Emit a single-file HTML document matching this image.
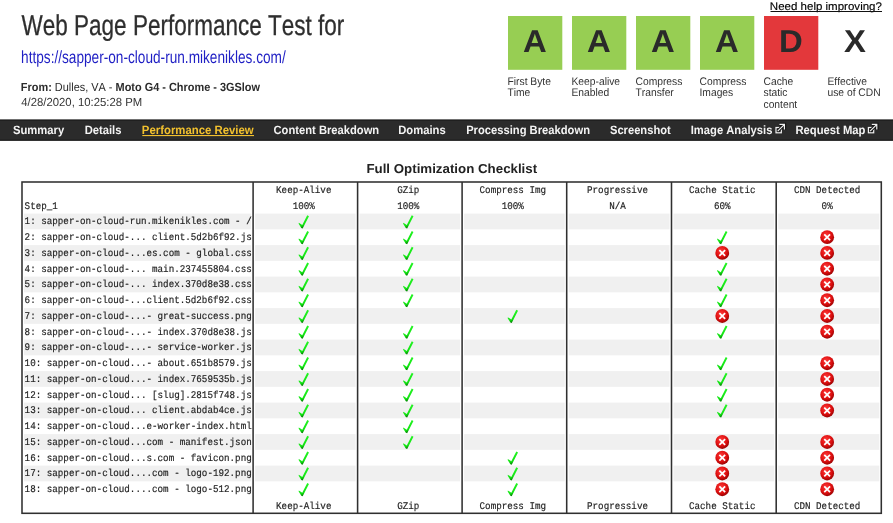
<!DOCTYPE html>
<html><head><meta charset="utf-8">
<style>
*{margin:0;padding:0}
html,body{width:893px;height:523px;overflow:hidden;background:#fff}
svg{display:block;will-change:transform;font-kerning:none;text-rendering:geometricPrecision}
text{font-kerning:none}
</style></head><body>
<svg width="893" height="523" viewBox="0 0 893 523">
<defs><linearGradient id="cg" x1="0" y1="0" x2="0.3" y2="1"><stop offset="0" stop-color="#2cfc2c"/><stop offset="0.78" stop-color="#12e412"/><stop offset="1" stop-color="#007800"/></linearGradient><radialGradient id="rg" cx="0.42" cy="0.35" r="0.7"><stop offset="0" stop-color="#ff3a3a"/><stop offset="0.6" stop-color="#dd0f0f"/><stop offset="1" stop-color="#8e0000"/></radialGradient></defs>
<text x="21.60" y="34.80" font-family="Liberation Sans" font-size="28.8" textLength="322.57" lengthAdjust="spacingAndGlyphs" fill="#2e2e2e" stroke="#2e2e2e" stroke-width="0.3"><tspan font-weight="normal">Web Page Performance Test for</tspan></text>
<text x="21.05" y="62.80" font-family="Liberation Sans" font-size="17.6" textLength="264.65" lengthAdjust="spacingAndGlyphs" fill="#1e1ec4" ><tspan font-weight="normal">https://sapper-on-cloud-run.mikenikles.com/</tspan></text>
<text x="20.87" y="91.30" font-family="Liberation Sans" font-size="11.8" textLength="239.11" lengthAdjust="spacingAndGlyphs" fill="#2b2b2b" ><tspan font-weight="bold">From:</tspan><tspan font-weight="normal"> Dulles, VA - </tspan><tspan font-weight="bold">Moto G4 - Chrome - 3GSlow</tspan></text>
<text x="21.34" y="106.20" font-family="Liberation Sans" font-size="11.7" textLength="120.79" lengthAdjust="spacingAndGlyphs" fill="#333" ><tspan font-weight="normal">4/28/2020, 10:25:28 PM</tspan></text>
<text x="769.85" y="9.60" font-family="Liberation Sans" font-size="11.0" textLength="112.07" lengthAdjust="spacingAndGlyphs" fill="#000" stroke="#000" stroke-width="0.15"><tspan font-weight="normal">Need help improving?</tspan></text>
<rect x="770.5" y="11" width="111.5" height="1" fill="#111"/>
<rect x="508" y="16" width="54.3" height="53.8" fill="#97ce53"/>
<text x="535.00" y="52.45" font-family="Liberation Sans" font-weight="bold" font-size="31.6" text-anchor="middle" fill="#2a2a2a" transform="translate(535.30,0) scale(1.04,1) translate(-535.30,0)">A</text>
<rect x="572" y="16" width="54.3" height="53.8" fill="#97ce53"/>
<text x="599.00" y="52.45" font-family="Liberation Sans" font-weight="bold" font-size="31.6" text-anchor="middle" fill="#2a2a2a" transform="translate(599.30,0) scale(1.04,1) translate(-599.30,0)">A</text>
<rect x="636" y="16" width="54.3" height="53.8" fill="#97ce53"/>
<text x="663.00" y="52.45" font-family="Liberation Sans" font-weight="bold" font-size="31.6" text-anchor="middle" fill="#2a2a2a" transform="translate(663.30,0) scale(1.04,1) translate(-663.30,0)">A</text>
<rect x="700" y="16" width="54.3" height="53.8" fill="#97ce53"/>
<text x="727.00" y="52.45" font-family="Liberation Sans" font-weight="bold" font-size="31.6" text-anchor="middle" fill="#2a2a2a" transform="translate(727.30,0) scale(1.04,1) translate(-727.30,0)">A</text>
<rect x="764" y="16" width="54.3" height="53.8" fill="#e3383b"/>
<text x="791.00" y="52.45" font-family="Liberation Sans" font-weight="bold" font-size="31.6" text-anchor="middle" fill="#2a2a2a" transform="translate(791.30,0) scale(1.04,1) translate(-791.30,0)">D</text>
<text x="855.00" y="52.45" font-family="Liberation Sans" font-weight="bold" font-size="31.6" text-anchor="middle" fill="#2a2a2a" transform="translate(855.30,0) scale(1.04,1) translate(-855.30,0)">X</text>
<text x="507.50" y="84.50" font-family="Liberation Sans" font-size="11" textLength="43.43" lengthAdjust="spacingAndGlyphs" fill="#333">First Byte</text>
<text x="507.50" y="96.40" font-family="Liberation Sans" font-size="11" textLength="22.85" lengthAdjust="spacingAndGlyphs" fill="#333">Time</text>
<text x="571.50" y="84.50" font-family="Liberation Sans" font-size="11" textLength="48.60" lengthAdjust="spacingAndGlyphs" fill="#333">Keep-alive</text>
<text x="571.50" y="96.40" font-family="Liberation Sans" font-size="11" textLength="37.75" lengthAdjust="spacingAndGlyphs" fill="#333">Enabled</text>
<text x="635.50" y="84.50" font-family="Liberation Sans" font-size="11" textLength="46.87" lengthAdjust="spacingAndGlyphs" fill="#333">Compress</text>
<text x="635.50" y="96.40" font-family="Liberation Sans" font-size="11" textLength="38.29" lengthAdjust="spacingAndGlyphs" fill="#333">Transfer</text>
<text x="699.50" y="84.50" font-family="Liberation Sans" font-size="11" textLength="46.87" lengthAdjust="spacingAndGlyphs" fill="#333">Compress</text>
<text x="699.50" y="96.40" font-family="Liberation Sans" font-size="11" textLength="33.73" lengthAdjust="spacingAndGlyphs" fill="#333">Images</text>
<text x="763.50" y="84.50" font-family="Liberation Sans" font-size="11" textLength="29.73" lengthAdjust="spacingAndGlyphs" fill="#333">Cache</text>
<text x="763.50" y="96.40" font-family="Liberation Sans" font-size="11" textLength="24.01" lengthAdjust="spacingAndGlyphs" fill="#333">static</text>
<text x="763.50" y="108.30" font-family="Liberation Sans" font-size="11" textLength="33.74" lengthAdjust="spacingAndGlyphs" fill="#333">content</text>
<text x="827.50" y="84.50" font-family="Liberation Sans" font-size="11" textLength="39.44" lengthAdjust="spacingAndGlyphs" fill="#333">Effective</text>
<text x="827.50" y="96.40" font-family="Liberation Sans" font-size="11" textLength="53.16" lengthAdjust="spacingAndGlyphs" fill="#333">use of CDN</text>
<rect x="0" y="119.6" width="893" height="21.1" fill="#2b2b2b"/>
<rect x="0" y="119.6" width="893" height="1.1" fill="#1c1c1c"/>
<rect x="0" y="139.6" width="893" height="1.1" fill="#1c1c1c"/>
<text x="12.98" y="134.20" font-family="Liberation Sans" font-size="12.0" textLength="51.28" lengthAdjust="spacingAndGlyphs" fill="#f4f4f4" ><tspan font-weight="bold">Summary</tspan></text>
<text x="84.65" y="134.20" font-family="Liberation Sans" font-size="12.0" textLength="36.81" lengthAdjust="spacingAndGlyphs" fill="#f4f4f4" ><tspan font-weight="bold">Details</tspan></text>
<text x="141.84" y="134.20" font-family="Liberation Sans" font-size="12.0" textLength="111.84" lengthAdjust="spacingAndGlyphs" fill="#f2c12e" ><tspan font-weight="bold">Performance Review</tspan></text>
<rect x="142.29999999999998" y="135.0" width="111.69999999999999" height="1.1" fill="#f2c12e"/>
<text x="273.54" y="134.20" font-family="Liberation Sans" font-size="12.0" textLength="105.65" lengthAdjust="spacingAndGlyphs" fill="#f4f4f4" ><tspan font-weight="bold">Content Breakdown</tspan></text>
<text x="398.25" y="134.20" font-family="Liberation Sans" font-size="12.0" textLength="47.51" lengthAdjust="spacingAndGlyphs" fill="#f4f4f4" ><tspan font-weight="bold">Domains</tspan></text>
<text x="466.15" y="134.20" font-family="Liberation Sans" font-size="12.0" textLength="123.84" lengthAdjust="spacingAndGlyphs" fill="#f4f4f4" ><tspan font-weight="bold">Processing Breakdown</tspan></text>
<text x="609.98" y="134.20" font-family="Liberation Sans" font-size="12.0" textLength="60.76" lengthAdjust="spacingAndGlyphs" fill="#f4f4f4" ><tspan font-weight="bold">Screenshot</tspan></text>
<text x="690.75" y="134.20" font-family="Liberation Sans" font-size="12.0" textLength="81.61" lengthAdjust="spacingAndGlyphs" fill="#f4f4f4" ><tspan font-weight="bold">Image Analysis</tspan></text>
<text x="795.45" y="134.20" font-family="Liberation Sans" font-size="12.0" textLength="70.01" lengthAdjust="spacingAndGlyphs" fill="#f4f4f4" ><tspan font-weight="bold">Request Map</tspan></text>
<g transform="translate(775.4,126.9)" fill="none"><rect x="0.6" y="0.6" width="5.3" height="5.3" stroke="#f0f0f0" stroke-width="1.2"/><path d="M2.3 4.2 L8.6 -2.1 M3.8 -2.6 H9.2 V2.8" stroke="#151515" stroke-width="3.2"/><path d="M2.3 4.2 L8.6 -2.1 M4.0 -2.6 H9.0 V2.6" stroke="#f0f0f0" stroke-width="1.2"/></g>
<g transform="translate(867.8,126.9)" fill="none"><rect x="0.6" y="0.6" width="5.3" height="5.3" stroke="#f0f0f0" stroke-width="1.2"/><path d="M2.3 4.2 L8.6 -2.1 M3.8 -2.6 H9.2 V2.8" stroke="#151515" stroke-width="3.2"/><path d="M2.3 4.2 L8.6 -2.1 M4.0 -2.6 H9.0 V2.6" stroke="#f0f0f0" stroke-width="1.2"/></g>
<text x="366.41" y="172.90" font-family="Liberation Sans" font-size="13.0" textLength="170.75" lengthAdjust="spacingAndGlyphs" fill="#222" ><tspan font-weight="bold">Full Optimization Checklist</tspan></text>
<rect x="24.00" y="213.60" width="227.10" height="15.75" fill="#f0f0f0"/>
<rect x="255.10" y="213.60" width="100.50" height="15.75" fill="#f0f0f0"/>
<rect x="359.60" y="213.60" width="100.50" height="15.75" fill="#f0f0f0"/>
<rect x="464.10" y="213.60" width="100.60" height="15.75" fill="#f0f0f0"/>
<rect x="568.70" y="213.60" width="100.80" height="15.75" fill="#f0f0f0"/>
<rect x="673.50" y="213.60" width="100.70" height="15.75" fill="#f0f0f0"/>
<rect x="778.20" y="213.60" width="101.10" height="15.75" fill="#f0f0f0"/>
<rect x="24.00" y="245.10" width="227.10" height="15.75" fill="#f0f0f0"/>
<rect x="255.10" y="245.10" width="100.50" height="15.75" fill="#f0f0f0"/>
<rect x="359.60" y="245.10" width="100.50" height="15.75" fill="#f0f0f0"/>
<rect x="464.10" y="245.10" width="100.60" height="15.75" fill="#f0f0f0"/>
<rect x="568.70" y="245.10" width="100.80" height="15.75" fill="#f0f0f0"/>
<rect x="673.50" y="245.10" width="100.70" height="15.75" fill="#f0f0f0"/>
<rect x="778.20" y="245.10" width="101.10" height="15.75" fill="#f0f0f0"/>
<rect x="24.00" y="276.60" width="227.10" height="15.75" fill="#f0f0f0"/>
<rect x="255.10" y="276.60" width="100.50" height="15.75" fill="#f0f0f0"/>
<rect x="359.60" y="276.60" width="100.50" height="15.75" fill="#f0f0f0"/>
<rect x="464.10" y="276.60" width="100.60" height="15.75" fill="#f0f0f0"/>
<rect x="568.70" y="276.60" width="100.80" height="15.75" fill="#f0f0f0"/>
<rect x="673.50" y="276.60" width="100.70" height="15.75" fill="#f0f0f0"/>
<rect x="778.20" y="276.60" width="101.10" height="15.75" fill="#f0f0f0"/>
<rect x="24.00" y="308.10" width="227.10" height="15.75" fill="#f0f0f0"/>
<rect x="255.10" y="308.10" width="100.50" height="15.75" fill="#f0f0f0"/>
<rect x="359.60" y="308.10" width="100.50" height="15.75" fill="#f0f0f0"/>
<rect x="464.10" y="308.10" width="100.60" height="15.75" fill="#f0f0f0"/>
<rect x="568.70" y="308.10" width="100.80" height="15.75" fill="#f0f0f0"/>
<rect x="673.50" y="308.10" width="100.70" height="15.75" fill="#f0f0f0"/>
<rect x="778.20" y="308.10" width="101.10" height="15.75" fill="#f0f0f0"/>
<rect x="24.00" y="339.60" width="227.10" height="15.75" fill="#f0f0f0"/>
<rect x="255.10" y="339.60" width="100.50" height="15.75" fill="#f0f0f0"/>
<rect x="359.60" y="339.60" width="100.50" height="15.75" fill="#f0f0f0"/>
<rect x="464.10" y="339.60" width="100.60" height="15.75" fill="#f0f0f0"/>
<rect x="568.70" y="339.60" width="100.80" height="15.75" fill="#f0f0f0"/>
<rect x="673.50" y="339.60" width="100.70" height="15.75" fill="#f0f0f0"/>
<rect x="778.20" y="339.60" width="101.10" height="15.75" fill="#f0f0f0"/>
<rect x="24.00" y="371.10" width="227.10" height="15.75" fill="#f0f0f0"/>
<rect x="255.10" y="371.10" width="100.50" height="15.75" fill="#f0f0f0"/>
<rect x="359.60" y="371.10" width="100.50" height="15.75" fill="#f0f0f0"/>
<rect x="464.10" y="371.10" width="100.60" height="15.75" fill="#f0f0f0"/>
<rect x="568.70" y="371.10" width="100.80" height="15.75" fill="#f0f0f0"/>
<rect x="673.50" y="371.10" width="100.70" height="15.75" fill="#f0f0f0"/>
<rect x="778.20" y="371.10" width="101.10" height="15.75" fill="#f0f0f0"/>
<rect x="24.00" y="402.60" width="227.10" height="15.75" fill="#f0f0f0"/>
<rect x="255.10" y="402.60" width="100.50" height="15.75" fill="#f0f0f0"/>
<rect x="359.60" y="402.60" width="100.50" height="15.75" fill="#f0f0f0"/>
<rect x="464.10" y="402.60" width="100.60" height="15.75" fill="#f0f0f0"/>
<rect x="568.70" y="402.60" width="100.80" height="15.75" fill="#f0f0f0"/>
<rect x="673.50" y="402.60" width="100.70" height="15.75" fill="#f0f0f0"/>
<rect x="778.20" y="402.60" width="101.10" height="15.75" fill="#f0f0f0"/>
<rect x="24.00" y="434.10" width="227.10" height="15.75" fill="#f0f0f0"/>
<rect x="255.10" y="434.10" width="100.50" height="15.75" fill="#f0f0f0"/>
<rect x="359.60" y="434.10" width="100.50" height="15.75" fill="#f0f0f0"/>
<rect x="464.10" y="434.10" width="100.60" height="15.75" fill="#f0f0f0"/>
<rect x="568.70" y="434.10" width="100.80" height="15.75" fill="#f0f0f0"/>
<rect x="673.50" y="434.10" width="100.70" height="15.75" fill="#f0f0f0"/>
<rect x="778.20" y="434.10" width="101.10" height="15.75" fill="#f0f0f0"/>
<rect x="24.00" y="465.60" width="227.10" height="15.75" fill="#f0f0f0"/>
<rect x="255.10" y="465.60" width="100.50" height="15.75" fill="#f0f0f0"/>
<rect x="359.60" y="465.60" width="100.50" height="15.75" fill="#f0f0f0"/>
<rect x="464.10" y="465.60" width="100.60" height="15.75" fill="#f0f0f0"/>
<rect x="568.70" y="465.60" width="100.80" height="15.75" fill="#f0f0f0"/>
<rect x="673.50" y="465.60" width="100.70" height="15.75" fill="#f0f0f0"/>
<rect x="778.20" y="465.60" width="101.10" height="15.75" fill="#f0f0f0"/>
<rect x="22.0" y="182.0" width="859.3" height="331.29999999999995" fill="none" stroke="#303030" stroke-width="1.55"/>
<line x1="253.1" y1="182.0" x2="253.1" y2="513.3" stroke="#303030" stroke-width="1.55"/>
<line x1="357.6" y1="182.0" x2="357.6" y2="513.3" stroke="#303030" stroke-width="1.55"/>
<line x1="462.1" y1="182.0" x2="462.1" y2="513.3" stroke="#303030" stroke-width="1.55"/>
<line x1="566.7" y1="182.0" x2="566.7" y2="513.3" stroke="#303030" stroke-width="1.55"/>
<line x1="671.5" y1="182.0" x2="671.5" y2="513.3" stroke="#303030" stroke-width="1.55"/>
<line x1="776.2" y1="182.0" x2="776.2" y2="513.3" stroke="#303030" stroke-width="1.55"/>
<clipPath id="cl"><rect x="23" y="180" width="229.10" height="340"/></clipPath>
<g clip-path="url(#cl)">
<text x="24.60" y="208.90" font-family="Liberation Mono" font-size="10.2" textLength="33.24" lengthAdjust="spacingAndGlyphs" fill="#1e1e1e" stroke="#1e1e1e" stroke-width="0.18">Step_1</text>
<text x="24.60" y="224.30" font-family="Liberation Mono" font-size="10.2" textLength="227.14" lengthAdjust="spacingAndGlyphs" fill="#1e1e1e" stroke="#1e1e1e" stroke-width="0.18">1: sapper-on-cloud-run.mikenikles.com - /</text>
<text x="24.60" y="240.05" font-family="Liberation Mono" font-size="10.2" textLength="227.14" lengthAdjust="spacingAndGlyphs" fill="#1e1e1e" stroke="#1e1e1e" stroke-width="0.18">2: sapper-on-cloud-... client.5d2b6f92.js</text>
<text x="24.60" y="255.80" font-family="Liberation Mono" font-size="10.2" textLength="227.14" lengthAdjust="spacingAndGlyphs" fill="#1e1e1e" stroke="#1e1e1e" stroke-width="0.18">3: sapper-on-cloud-...es.com - global.css</text>
<text x="24.60" y="271.55" font-family="Liberation Mono" font-size="10.2" textLength="227.14" lengthAdjust="spacingAndGlyphs" fill="#1e1e1e" stroke="#1e1e1e" stroke-width="0.18">4: sapper-on-cloud-... main.237455804.css</text>
<text x="24.60" y="287.30" font-family="Liberation Mono" font-size="10.2" textLength="227.14" lengthAdjust="spacingAndGlyphs" fill="#1e1e1e" stroke="#1e1e1e" stroke-width="0.18">5: sapper-on-cloud-... index.370d8e38.css</text>
<text x="24.60" y="303.05" font-family="Liberation Mono" font-size="10.2" textLength="227.14" lengthAdjust="spacingAndGlyphs" fill="#1e1e1e" stroke="#1e1e1e" stroke-width="0.18">6: sapper-on-cloud-...client.5d2b6f92.css</text>
<text x="24.60" y="318.80" font-family="Liberation Mono" font-size="10.2" textLength="227.14" lengthAdjust="spacingAndGlyphs" fill="#1e1e1e" stroke="#1e1e1e" stroke-width="0.18">7: sapper-on-cloud-...- great-success.png</text>
<text x="24.60" y="334.55" font-family="Liberation Mono" font-size="10.2" textLength="227.14" lengthAdjust="spacingAndGlyphs" fill="#1e1e1e" stroke="#1e1e1e" stroke-width="0.18">8: sapper-on-cloud-...- index.370d8e38.js</text>
<text x="24.60" y="350.30" font-family="Liberation Mono" font-size="10.2" textLength="227.14" lengthAdjust="spacingAndGlyphs" fill="#1e1e1e" stroke="#1e1e1e" stroke-width="0.18">9: sapper-on-cloud-...- service-worker.js</text>
<text x="24.60" y="366.05" font-family="Liberation Mono" font-size="10.2" textLength="227.14" lengthAdjust="spacingAndGlyphs" fill="#1e1e1e" stroke="#1e1e1e" stroke-width="0.18">10: sapper-on-cloud...- about.651b8579.js</text>
<text x="24.60" y="381.80" font-family="Liberation Mono" font-size="10.2" textLength="227.14" lengthAdjust="spacingAndGlyphs" fill="#1e1e1e" stroke="#1e1e1e" stroke-width="0.18">11: sapper-on-cloud...- index.7659535b.js</text>
<text x="24.60" y="397.55" font-family="Liberation Mono" font-size="10.2" textLength="227.14" lengthAdjust="spacingAndGlyphs" fill="#1e1e1e" stroke="#1e1e1e" stroke-width="0.18">12: sapper-on-cloud... [slug].2815f748.js</text>
<text x="24.60" y="413.30" font-family="Liberation Mono" font-size="10.2" textLength="227.14" lengthAdjust="spacingAndGlyphs" fill="#1e1e1e" stroke="#1e1e1e" stroke-width="0.18">13: sapper-on-cloud... client.abdab4ce.js</text>
<text x="24.60" y="429.05" font-family="Liberation Mono" font-size="10.2" textLength="227.14" lengthAdjust="spacingAndGlyphs" fill="#1e1e1e" stroke="#1e1e1e" stroke-width="0.18">14: sapper-on-cloud...e-worker-index.html</text>
<text x="24.60" y="444.80" font-family="Liberation Mono" font-size="10.2" textLength="227.14" lengthAdjust="spacingAndGlyphs" fill="#1e1e1e" stroke="#1e1e1e" stroke-width="0.18">15: sapper-on-cloud...com - manifest.json</text>
<text x="24.60" y="460.55" font-family="Liberation Mono" font-size="10.2" textLength="227.14" lengthAdjust="spacingAndGlyphs" fill="#1e1e1e" stroke="#1e1e1e" stroke-width="0.18">16: sapper-on-cloud...s.com - favicon.png</text>
<text x="24.60" y="476.30" font-family="Liberation Mono" font-size="10.2" textLength="227.14" lengthAdjust="spacingAndGlyphs" fill="#1e1e1e" stroke="#1e1e1e" stroke-width="0.18">17: sapper-on-cloud....com - logo-192.png</text>
<text x="24.60" y="492.05" font-family="Liberation Mono" font-size="10.2" textLength="227.14" lengthAdjust="spacingAndGlyphs" fill="#1e1e1e" stroke="#1e1e1e" stroke-width="0.18">18: sapper-on-cloud....com - logo-512.png</text>
</g>
<text x="276.05" y="193.20" font-family="Liberation Mono" font-size="10.2" textLength="55.40" lengthAdjust="spacingAndGlyphs" fill="#1e1e1e" stroke="#1e1e1e" stroke-width="0.18">Keep-Alive</text>
<text x="292.67" y="208.50" font-family="Liberation Mono" font-size="10.2" textLength="22.16" lengthAdjust="spacingAndGlyphs" fill="#1e1e1e" stroke="#1e1e1e" stroke-width="0.18">100%</text>
<text x="276.05" y="509.00" font-family="Liberation Mono" font-size="10.2" textLength="55.40" lengthAdjust="spacingAndGlyphs" fill="#1e1e1e" stroke="#1e1e1e" stroke-width="0.18">Keep-Alive</text>
<text x="397.17" y="193.20" font-family="Liberation Mono" font-size="10.2" textLength="22.16" lengthAdjust="spacingAndGlyphs" fill="#1e1e1e" stroke="#1e1e1e" stroke-width="0.18">GZip</text>
<text x="397.17" y="208.50" font-family="Liberation Mono" font-size="10.2" textLength="22.16" lengthAdjust="spacingAndGlyphs" fill="#1e1e1e" stroke="#1e1e1e" stroke-width="0.18">100%</text>
<text x="397.17" y="509.00" font-family="Liberation Mono" font-size="10.2" textLength="22.16" lengthAdjust="spacingAndGlyphs" fill="#1e1e1e" stroke="#1e1e1e" stroke-width="0.18">GZip</text>
<text x="479.56" y="193.20" font-family="Liberation Mono" font-size="10.2" textLength="66.48" lengthAdjust="spacingAndGlyphs" fill="#1e1e1e" stroke="#1e1e1e" stroke-width="0.18">Compress Img</text>
<text x="501.72" y="208.50" font-family="Liberation Mono" font-size="10.2" textLength="22.16" lengthAdjust="spacingAndGlyphs" fill="#1e1e1e" stroke="#1e1e1e" stroke-width="0.18">100%</text>
<text x="479.56" y="509.00" font-family="Liberation Mono" font-size="10.2" textLength="66.48" lengthAdjust="spacingAndGlyphs" fill="#1e1e1e" stroke="#1e1e1e" stroke-width="0.18">Compress Img</text>
<text x="587.03" y="193.20" font-family="Liberation Mono" font-size="10.2" textLength="60.94" lengthAdjust="spacingAndGlyphs" fill="#1e1e1e" stroke="#1e1e1e" stroke-width="0.18">Progressive</text>
<text x="609.19" y="208.50" font-family="Liberation Mono" font-size="10.2" textLength="16.62" lengthAdjust="spacingAndGlyphs" fill="#1e1e1e" stroke="#1e1e1e" stroke-width="0.18">N/A</text>
<text x="587.03" y="509.00" font-family="Liberation Mono" font-size="10.2" textLength="60.94" lengthAdjust="spacingAndGlyphs" fill="#1e1e1e" stroke="#1e1e1e" stroke-width="0.18">Progressive</text>
<text x="689.01" y="193.20" font-family="Liberation Mono" font-size="10.2" textLength="66.48" lengthAdjust="spacingAndGlyphs" fill="#1e1e1e" stroke="#1e1e1e" stroke-width="0.18">Cache Static</text>
<text x="713.94" y="208.50" font-family="Liberation Mono" font-size="10.2" textLength="16.62" lengthAdjust="spacingAndGlyphs" fill="#1e1e1e" stroke="#1e1e1e" stroke-width="0.18">60%</text>
<text x="689.01" y="509.00" font-family="Liberation Mono" font-size="10.2" textLength="66.48" lengthAdjust="spacingAndGlyphs" fill="#1e1e1e" stroke="#1e1e1e" stroke-width="0.18">Cache Static</text>
<text x="793.91" y="193.20" font-family="Liberation Mono" font-size="10.2" textLength="66.48" lengthAdjust="spacingAndGlyphs" fill="#1e1e1e" stroke="#1e1e1e" stroke-width="0.18">CDN Detected</text>
<text x="821.61" y="208.50" font-family="Liberation Mono" font-size="10.2" textLength="11.08" lengthAdjust="spacingAndGlyphs" fill="#1e1e1e" stroke="#1e1e1e" stroke-width="0.18">0%</text>
<text x="793.91" y="509.00" font-family="Liberation Mono" font-size="10.2" textLength="66.48" lengthAdjust="spacingAndGlyphs" fill="#1e1e1e" stroke="#1e1e1e" stroke-width="0.18">CDN Detected</text>
<g transform="translate(303.75,221.92)"><path d="M-4.92 0.82 L-1.48 3.19 L3.49 -6.56 L5.21 -5.79 L-1.1 6.63 L-2.43 6.06 L-5.11 1.85 Z" fill="url(#cg)"/></g>
<g transform="translate(408.25,221.92)"><path d="M-4.92 0.82 L-1.48 3.19 L3.49 -6.56 L5.21 -5.79 L-1.1 6.63 L-2.43 6.06 L-5.11 1.85 Z" fill="url(#cg)"/></g>
<g transform="translate(303.75,237.67)"><path d="M-4.92 0.82 L-1.48 3.19 L3.49 -6.56 L5.21 -5.79 L-1.1 6.63 L-2.43 6.06 L-5.11 1.85 Z" fill="url(#cg)"/></g>
<g transform="translate(408.25,237.67)"><path d="M-4.92 0.82 L-1.48 3.19 L3.49 -6.56 L5.21 -5.79 L-1.1 6.63 L-2.43 6.06 L-5.11 1.85 Z" fill="url(#cg)"/></g>
<g transform="translate(722.25,237.67)"><path d="M-4.92 0.82 L-1.48 3.19 L3.49 -6.56 L5.21 -5.79 L-1.1 6.63 L-2.43 6.06 L-5.11 1.85 Z" fill="url(#cg)"/></g>
<g transform="translate(827.15,237.22)"><circle r="6.9" fill="url(#rg)"/><path d="M-2.9 -2.9 L2.9 2.9 M2.9 -2.9 L-2.9 2.9" stroke="#fff" stroke-width="1.75"/></g>
<g transform="translate(303.75,253.42)"><path d="M-4.92 0.82 L-1.48 3.19 L3.49 -6.56 L5.21 -5.79 L-1.1 6.63 L-2.43 6.06 L-5.11 1.85 Z" fill="url(#cg)"/></g>
<g transform="translate(408.25,253.42)"><path d="M-4.92 0.82 L-1.48 3.19 L3.49 -6.56 L5.21 -5.79 L-1.1 6.63 L-2.43 6.06 L-5.11 1.85 Z" fill="url(#cg)"/></g>
<g transform="translate(722.25,252.97)"><circle r="6.9" fill="url(#rg)"/><path d="M-2.9 -2.9 L2.9 2.9 M2.9 -2.9 L-2.9 2.9" stroke="#fff" stroke-width="1.75"/></g>
<g transform="translate(827.15,252.97)"><circle r="6.9" fill="url(#rg)"/><path d="M-2.9 -2.9 L2.9 2.9 M2.9 -2.9 L-2.9 2.9" stroke="#fff" stroke-width="1.75"/></g>
<g transform="translate(303.75,269.18)"><path d="M-4.92 0.82 L-1.48 3.19 L3.49 -6.56 L5.21 -5.79 L-1.1 6.63 L-2.43 6.06 L-5.11 1.85 Z" fill="url(#cg)"/></g>
<g transform="translate(408.25,269.18)"><path d="M-4.92 0.82 L-1.48 3.19 L3.49 -6.56 L5.21 -5.79 L-1.1 6.63 L-2.43 6.06 L-5.11 1.85 Z" fill="url(#cg)"/></g>
<g transform="translate(722.25,269.18)"><path d="M-4.92 0.82 L-1.48 3.19 L3.49 -6.56 L5.21 -5.79 L-1.1 6.63 L-2.43 6.06 L-5.11 1.85 Z" fill="url(#cg)"/></g>
<g transform="translate(827.15,268.73)"><circle r="6.9" fill="url(#rg)"/><path d="M-2.9 -2.9 L2.9 2.9 M2.9 -2.9 L-2.9 2.9" stroke="#fff" stroke-width="1.75"/></g>
<g transform="translate(303.75,284.93)"><path d="M-4.92 0.82 L-1.48 3.19 L3.49 -6.56 L5.21 -5.79 L-1.1 6.63 L-2.43 6.06 L-5.11 1.85 Z" fill="url(#cg)"/></g>
<g transform="translate(408.25,284.93)"><path d="M-4.92 0.82 L-1.48 3.19 L3.49 -6.56 L5.21 -5.79 L-1.1 6.63 L-2.43 6.06 L-5.11 1.85 Z" fill="url(#cg)"/></g>
<g transform="translate(722.25,284.93)"><path d="M-4.92 0.82 L-1.48 3.19 L3.49 -6.56 L5.21 -5.79 L-1.1 6.63 L-2.43 6.06 L-5.11 1.85 Z" fill="url(#cg)"/></g>
<g transform="translate(827.15,284.48)"><circle r="6.9" fill="url(#rg)"/><path d="M-2.9 -2.9 L2.9 2.9 M2.9 -2.9 L-2.9 2.9" stroke="#fff" stroke-width="1.75"/></g>
<g transform="translate(303.75,300.68)"><path d="M-4.92 0.82 L-1.48 3.19 L3.49 -6.56 L5.21 -5.79 L-1.1 6.63 L-2.43 6.06 L-5.11 1.85 Z" fill="url(#cg)"/></g>
<g transform="translate(408.25,300.68)"><path d="M-4.92 0.82 L-1.48 3.19 L3.49 -6.56 L5.21 -5.79 L-1.1 6.63 L-2.43 6.06 L-5.11 1.85 Z" fill="url(#cg)"/></g>
<g transform="translate(722.25,300.68)"><path d="M-4.92 0.82 L-1.48 3.19 L3.49 -6.56 L5.21 -5.79 L-1.1 6.63 L-2.43 6.06 L-5.11 1.85 Z" fill="url(#cg)"/></g>
<g transform="translate(827.15,300.23)"><circle r="6.9" fill="url(#rg)"/><path d="M-2.9 -2.9 L2.9 2.9 M2.9 -2.9 L-2.9 2.9" stroke="#fff" stroke-width="1.75"/></g>
<g transform="translate(303.75,316.43)"><path d="M-4.92 0.82 L-1.48 3.19 L3.49 -6.56 L5.21 -5.79 L-1.1 6.63 L-2.43 6.06 L-5.11 1.85 Z" fill="url(#cg)"/></g>
<g transform="translate(512.80,316.43)"><path d="M-4.92 0.82 L-1.48 3.19 L3.49 -6.56 L5.21 -5.79 L-1.1 6.63 L-2.43 6.06 L-5.11 1.85 Z" fill="url(#cg)"/></g>
<g transform="translate(722.25,315.98)"><circle r="6.9" fill="url(#rg)"/><path d="M-2.9 -2.9 L2.9 2.9 M2.9 -2.9 L-2.9 2.9" stroke="#fff" stroke-width="1.75"/></g>
<g transform="translate(827.15,315.98)"><circle r="6.9" fill="url(#rg)"/><path d="M-2.9 -2.9 L2.9 2.9 M2.9 -2.9 L-2.9 2.9" stroke="#fff" stroke-width="1.75"/></g>
<g transform="translate(303.75,332.18)"><path d="M-4.92 0.82 L-1.48 3.19 L3.49 -6.56 L5.21 -5.79 L-1.1 6.63 L-2.43 6.06 L-5.11 1.85 Z" fill="url(#cg)"/></g>
<g transform="translate(408.25,332.18)"><path d="M-4.92 0.82 L-1.48 3.19 L3.49 -6.56 L5.21 -5.79 L-1.1 6.63 L-2.43 6.06 L-5.11 1.85 Z" fill="url(#cg)"/></g>
<g transform="translate(722.25,332.18)"><path d="M-4.92 0.82 L-1.48 3.19 L3.49 -6.56 L5.21 -5.79 L-1.1 6.63 L-2.43 6.06 L-5.11 1.85 Z" fill="url(#cg)"/></g>
<g transform="translate(827.15,331.73)"><circle r="6.9" fill="url(#rg)"/><path d="M-2.9 -2.9 L2.9 2.9 M2.9 -2.9 L-2.9 2.9" stroke="#fff" stroke-width="1.75"/></g>
<g transform="translate(303.75,347.93)"><path d="M-4.92 0.82 L-1.48 3.19 L3.49 -6.56 L5.21 -5.79 L-1.1 6.63 L-2.43 6.06 L-5.11 1.85 Z" fill="url(#cg)"/></g>
<g transform="translate(408.25,347.93)"><path d="M-4.92 0.82 L-1.48 3.19 L3.49 -6.56 L5.21 -5.79 L-1.1 6.63 L-2.43 6.06 L-5.11 1.85 Z" fill="url(#cg)"/></g>
<g transform="translate(303.75,363.68)"><path d="M-4.92 0.82 L-1.48 3.19 L3.49 -6.56 L5.21 -5.79 L-1.1 6.63 L-2.43 6.06 L-5.11 1.85 Z" fill="url(#cg)"/></g>
<g transform="translate(408.25,363.68)"><path d="M-4.92 0.82 L-1.48 3.19 L3.49 -6.56 L5.21 -5.79 L-1.1 6.63 L-2.43 6.06 L-5.11 1.85 Z" fill="url(#cg)"/></g>
<g transform="translate(722.25,363.68)"><path d="M-4.92 0.82 L-1.48 3.19 L3.49 -6.56 L5.21 -5.79 L-1.1 6.63 L-2.43 6.06 L-5.11 1.85 Z" fill="url(#cg)"/></g>
<g transform="translate(827.15,363.23)"><circle r="6.9" fill="url(#rg)"/><path d="M-2.9 -2.9 L2.9 2.9 M2.9 -2.9 L-2.9 2.9" stroke="#fff" stroke-width="1.75"/></g>
<g transform="translate(303.75,379.43)"><path d="M-4.92 0.82 L-1.48 3.19 L3.49 -6.56 L5.21 -5.79 L-1.1 6.63 L-2.43 6.06 L-5.11 1.85 Z" fill="url(#cg)"/></g>
<g transform="translate(408.25,379.43)"><path d="M-4.92 0.82 L-1.48 3.19 L3.49 -6.56 L5.21 -5.79 L-1.1 6.63 L-2.43 6.06 L-5.11 1.85 Z" fill="url(#cg)"/></g>
<g transform="translate(722.25,379.43)"><path d="M-4.92 0.82 L-1.48 3.19 L3.49 -6.56 L5.21 -5.79 L-1.1 6.63 L-2.43 6.06 L-5.11 1.85 Z" fill="url(#cg)"/></g>
<g transform="translate(827.15,378.98)"><circle r="6.9" fill="url(#rg)"/><path d="M-2.9 -2.9 L2.9 2.9 M2.9 -2.9 L-2.9 2.9" stroke="#fff" stroke-width="1.75"/></g>
<g transform="translate(303.75,395.18)"><path d="M-4.92 0.82 L-1.48 3.19 L3.49 -6.56 L5.21 -5.79 L-1.1 6.63 L-2.43 6.06 L-5.11 1.85 Z" fill="url(#cg)"/></g>
<g transform="translate(408.25,395.18)"><path d="M-4.92 0.82 L-1.48 3.19 L3.49 -6.56 L5.21 -5.79 L-1.1 6.63 L-2.43 6.06 L-5.11 1.85 Z" fill="url(#cg)"/></g>
<g transform="translate(722.25,395.18)"><path d="M-4.92 0.82 L-1.48 3.19 L3.49 -6.56 L5.21 -5.79 L-1.1 6.63 L-2.43 6.06 L-5.11 1.85 Z" fill="url(#cg)"/></g>
<g transform="translate(827.15,394.73)"><circle r="6.9" fill="url(#rg)"/><path d="M-2.9 -2.9 L2.9 2.9 M2.9 -2.9 L-2.9 2.9" stroke="#fff" stroke-width="1.75"/></g>
<g transform="translate(303.75,410.93)"><path d="M-4.92 0.82 L-1.48 3.19 L3.49 -6.56 L5.21 -5.79 L-1.1 6.63 L-2.43 6.06 L-5.11 1.85 Z" fill="url(#cg)"/></g>
<g transform="translate(408.25,410.93)"><path d="M-4.92 0.82 L-1.48 3.19 L3.49 -6.56 L5.21 -5.79 L-1.1 6.63 L-2.43 6.06 L-5.11 1.85 Z" fill="url(#cg)"/></g>
<g transform="translate(722.25,410.93)"><path d="M-4.92 0.82 L-1.48 3.19 L3.49 -6.56 L5.21 -5.79 L-1.1 6.63 L-2.43 6.06 L-5.11 1.85 Z" fill="url(#cg)"/></g>
<g transform="translate(827.15,410.48)"><circle r="6.9" fill="url(#rg)"/><path d="M-2.9 -2.9 L2.9 2.9 M2.9 -2.9 L-2.9 2.9" stroke="#fff" stroke-width="1.75"/></g>
<g transform="translate(303.75,426.68)"><path d="M-4.92 0.82 L-1.48 3.19 L3.49 -6.56 L5.21 -5.79 L-1.1 6.63 L-2.43 6.06 L-5.11 1.85 Z" fill="url(#cg)"/></g>
<g transform="translate(408.25,426.68)"><path d="M-4.92 0.82 L-1.48 3.19 L3.49 -6.56 L5.21 -5.79 L-1.1 6.63 L-2.43 6.06 L-5.11 1.85 Z" fill="url(#cg)"/></g>
<g transform="translate(303.75,442.43)"><path d="M-4.92 0.82 L-1.48 3.19 L3.49 -6.56 L5.21 -5.79 L-1.1 6.63 L-2.43 6.06 L-5.11 1.85 Z" fill="url(#cg)"/></g>
<g transform="translate(408.25,442.43)"><path d="M-4.92 0.82 L-1.48 3.19 L3.49 -6.56 L5.21 -5.79 L-1.1 6.63 L-2.43 6.06 L-5.11 1.85 Z" fill="url(#cg)"/></g>
<g transform="translate(722.25,441.98)"><circle r="6.9" fill="url(#rg)"/><path d="M-2.9 -2.9 L2.9 2.9 M2.9 -2.9 L-2.9 2.9" stroke="#fff" stroke-width="1.75"/></g>
<g transform="translate(827.15,441.98)"><circle r="6.9" fill="url(#rg)"/><path d="M-2.9 -2.9 L2.9 2.9 M2.9 -2.9 L-2.9 2.9" stroke="#fff" stroke-width="1.75"/></g>
<g transform="translate(303.75,458.18)"><path d="M-4.92 0.82 L-1.48 3.19 L3.49 -6.56 L5.21 -5.79 L-1.1 6.63 L-2.43 6.06 L-5.11 1.85 Z" fill="url(#cg)"/></g>
<g transform="translate(512.80,458.18)"><path d="M-4.92 0.82 L-1.48 3.19 L3.49 -6.56 L5.21 -5.79 L-1.1 6.63 L-2.43 6.06 L-5.11 1.85 Z" fill="url(#cg)"/></g>
<g transform="translate(722.25,457.73)"><circle r="6.9" fill="url(#rg)"/><path d="M-2.9 -2.9 L2.9 2.9 M2.9 -2.9 L-2.9 2.9" stroke="#fff" stroke-width="1.75"/></g>
<g transform="translate(827.15,457.73)"><circle r="6.9" fill="url(#rg)"/><path d="M-2.9 -2.9 L2.9 2.9 M2.9 -2.9 L-2.9 2.9" stroke="#fff" stroke-width="1.75"/></g>
<g transform="translate(303.75,473.93)"><path d="M-4.92 0.82 L-1.48 3.19 L3.49 -6.56 L5.21 -5.79 L-1.1 6.63 L-2.43 6.06 L-5.11 1.85 Z" fill="url(#cg)"/></g>
<g transform="translate(512.80,473.93)"><path d="M-4.92 0.82 L-1.48 3.19 L3.49 -6.56 L5.21 -5.79 L-1.1 6.63 L-2.43 6.06 L-5.11 1.85 Z" fill="url(#cg)"/></g>
<g transform="translate(722.25,473.48)"><circle r="6.9" fill="url(#rg)"/><path d="M-2.9 -2.9 L2.9 2.9 M2.9 -2.9 L-2.9 2.9" stroke="#fff" stroke-width="1.75"/></g>
<g transform="translate(827.15,473.48)"><circle r="6.9" fill="url(#rg)"/><path d="M-2.9 -2.9 L2.9 2.9 M2.9 -2.9 L-2.9 2.9" stroke="#fff" stroke-width="1.75"/></g>
<g transform="translate(303.75,489.68)"><path d="M-4.92 0.82 L-1.48 3.19 L3.49 -6.56 L5.21 -5.79 L-1.1 6.63 L-2.43 6.06 L-5.11 1.85 Z" fill="url(#cg)"/></g>
<g transform="translate(512.80,489.68)"><path d="M-4.92 0.82 L-1.48 3.19 L3.49 -6.56 L5.21 -5.79 L-1.1 6.63 L-2.43 6.06 L-5.11 1.85 Z" fill="url(#cg)"/></g>
<g transform="translate(722.25,489.23)"><circle r="6.9" fill="url(#rg)"/><path d="M-2.9 -2.9 L2.9 2.9 M2.9 -2.9 L-2.9 2.9" stroke="#fff" stroke-width="1.75"/></g>
<g transform="translate(827.15,489.23)"><circle r="6.9" fill="url(#rg)"/><path d="M-2.9 -2.9 L2.9 2.9 M2.9 -2.9 L-2.9 2.9" stroke="#fff" stroke-width="1.75"/></g>
</svg>
</body></html>
